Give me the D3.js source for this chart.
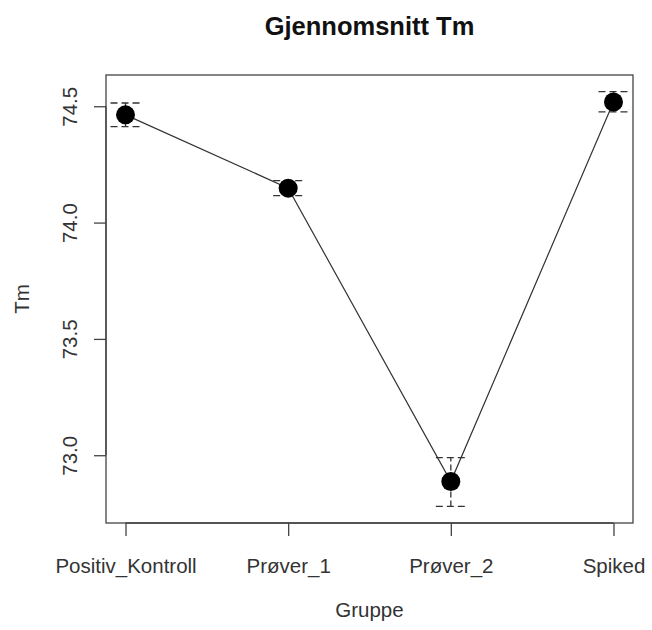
<!DOCTYPE html>
<html>
<head>
<meta charset="utf-8">
<script src="https://cdn.jsdelivr.net/npm/d3@7"></script>
<style>
  body { margin: 0; background: #fff; }
  svg { display: block; font-family: "Liberation Sans", Arial, sans-serif; }
</style>
</head>
<body>
<svg id="chart"></svg>
<script>
// data
const groups = ["Positiv_Kontroll", "Prøver_1", "Prøver_2", "Spiked"];
const means = [74.463, 74.148, 72.887, 74.518];
const lower = [74.412, 74.116, 72.780, 74.476];
const upper = [74.514, 74.180, 72.990, 74.563];
const yTicks = [73.0, 73.5, 74.0, 74.5];

const width = 652, height = 630;
const margin = { top: 75, right: 19, bottom: 107, left: 106 };
const textColor = "#333";
const fontSize = 20.5;

const svg = d3.select("#chart").attr("width", width).attr("height", height);

// R style: 4% extension on both axes
const x = d3.scaleLinear()
  .domain([1 - 0.12, groups.length + 0.12])
  .range([margin.left, width - margin.right]);

const yMin = d3.min(lower), yMax = d3.max(upper);
const pad = (yMax - yMin) * 0.04;
const y = d3.scaleLinear()
  .domain([yMin - pad, yMax + pad])
  .range([height - margin.bottom, margin.top]);

// box
svg.append("rect")
  .attr("x", margin.left).attr("y", margin.top)
  .attr("width", width - margin.left - margin.right)
  .attr("height", height - margin.top - margin.bottom)
  .attr("fill", "none").attr("stroke", "#444").attr("stroke-width", 1.3);

// x axis
const xAxis = svg.append("g")
  .attr("transform", `translate(0,${height - margin.bottom})`)
  .call(d3.axisBottom(x).tickValues(groups.map((d, i) => i + 1))
    .tickFormat((d, i) => groups[i]).tickSize(13).tickPadding(22));
xAxis.select(".domain").attr("d", `M${x(1)},0H${x(groups.length)}`).attr("stroke", "#444").attr("stroke-width", 1.3);
xAxis.selectAll(".tick line").attr("stroke", "#444").attr("stroke-width", 1.3);
xAxis.selectAll(".tick text").attr("fill", textColor).attr("font-size", fontSize)
  .attr("font-family", "Liberation Sans, Arial, sans-serif");

// y axis
const yAxis = svg.append("g")
  .attr("transform", `translate(${margin.left},0)`)
  .call(d3.axisLeft(y).tickValues(yTicks).tickFormat(d3.format(".1f")).tickSize(12));
yAxis.select(".domain").attr("d", `M0,${y(yTicks[0])}V${y(yTicks[yTicks.length - 1])}`).attr("stroke", "#444").attr("stroke-width", 1.3);
yAxis.selectAll(".tick line").attr("stroke", "#444").attr("stroke-width", 1.3);
yAxis.selectAll(".tick text")
  .attr("fill", textColor).attr("font-size", fontSize)
  .attr("font-family", "Liberation Sans, Arial, sans-serif")
  .attr("x", null).attr("dy", null)
  .attr("text-anchor", "middle")
  .attr("transform", "translate(-29,0) rotate(-90)");

// connecting line
svg.append("path")
  .datum(means)
  .attr("fill", "none")
  .attr("stroke", "#333")
  .attr("stroke-width", 1.2)
  .attr("d", d3.line().x((d, i) => x(i + 1)).y(d => y(d)));

// error bars (dashed)
const bars = svg.append("g").selectAll("g")
  .data(groups)
  .join("g");

bars.append("line")
  .attr("x1", (d, i) => x(i + 1)).attr("x2", (d, i) => x(i + 1))
  .attr("y1", (d, i) => y(lower[i])).attr("y2", (d, i) => y(upper[i]))
  .attr("stroke", "#333").attr("stroke-width", 1.3).attr("stroke-dasharray", "6,3");

[lower, upper].forEach(arr => {
  bars.append("line")
    .attr("x1", (d, i) => x(i + 1) - 15).attr("x2", (d, i) => x(i + 1) + 15)
    .attr("y1", (d, i) => y(arr[i])).attr("y2", (d, i) => y(arr[i]))
    .attr("stroke", "#333").attr("stroke-width", 1.3).attr("stroke-dasharray", "7,4");
});

// points
svg.append("g").selectAll("circle")
  .data(means)
  .join("circle")
  .attr("cx", (d, i) => x(i + 1))
  .attr("cy", d => y(d))
  .attr("r", 9.5)
  .attr("fill", "#000");

// title and labels
svg.append("text")
  .attr("x", (margin.left + width - margin.right) / 2).attr("y", 35)
  .attr("text-anchor", "middle").attr("font-size", 25.5).attr("font-weight", "bold")
  .attr("fill", "#111")
  .text("Gjennomsnitt Tm");

svg.append("text")
  .attr("x", (margin.left + width - margin.right) / 2).attr("y", 617)
  .attr("text-anchor", "middle").attr("font-size", fontSize).attr("fill", textColor)
  .text("Gruppe");

svg.append("text")
  .attr("transform", `translate(29,${(margin.top + height - margin.bottom) / 2}) rotate(-90)`)
  .attr("text-anchor", "middle").attr("font-size", fontSize).attr("fill", textColor)
  .text("Tm");
</script>
</body>
</html>
